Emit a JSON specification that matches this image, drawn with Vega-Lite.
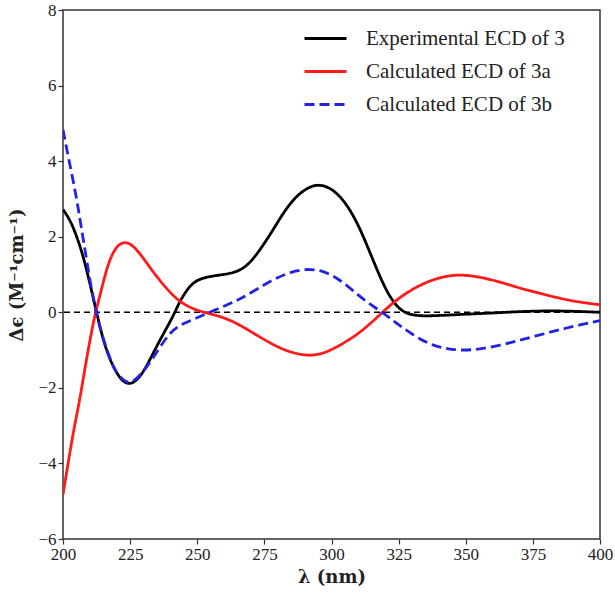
{
  "$schema": "https://vega.github.io/schema/vega-lite/v6.json",
  "autosize": {"type": "none"},
  "padding": {"left": 63, "top": 10, "right": 15, "bottom": 56},
  "width": 537,
  "height": 529,
  "background": "white",
  "config": {
    "view": {"stroke": "#333333", "strokeWidth": 1.5},
    "font": "Liberation Serif",
    "axis": {
      "grid": false,
      "domain": false,
      "labelFlush": false,
      "tickColor": "#333333",
      "tickSize": 5,
      "tickWidth": 1.2,
      "labelFont": "Liberation Serif",
      "labelFontSize": 17,
      "labelColor": "#222222",
      "titleFont": "DejaVu Serif",
      "titleFontSize": 18,
      "titleFontWeight": "bold",
      "titleColor": "#222222"
    },
    "legend": {
      "labelFont": "Liberation Serif",
      "labelFontSize": 21,
      "labelColor": "#222222",
      "labelLimit": 0
    }
  },
  "datasets": {
    "curves": [
      {"series": "Experimental ECD of 3", "wl": 200, "de": 2.72},
      {"series": "Experimental ECD of 3", "wl": 202.6, "de": 2.45},
      {"series": "Experimental ECD of 3", "wl": 205.1, "de": 2.02},
      {"series": "Experimental ECD of 3", "wl": 207.6, "de": 1.47},
      {"series": "Experimental ECD of 3", "wl": 210, "de": 0.77},
      {"series": "Experimental ECD of 3", "wl": 212.5, "de": 0.0},
      {"series": "Experimental ECD of 3", "wl": 214.5, "de": -0.6},
      {"series": "Experimental ECD of 3", "wl": 216.5, "de": -1.08},
      {"series": "Experimental ECD of 3", "wl": 220, "de": -1.65},
      {"series": "Experimental ECD of 3", "wl": 224, "de": -1.96},
      {"series": "Experimental ECD of 3", "wl": 228, "de": -1.78},
      {"series": "Experimental ECD of 3", "wl": 231, "de": -1.45},
      {"series": "Experimental ECD of 3", "wl": 234, "de": -1.02},
      {"series": "Experimental ECD of 3", "wl": 237, "de": -0.62},
      {"series": "Experimental ECD of 3", "wl": 239.5, "de": -0.3},
      {"series": "Experimental ECD of 3", "wl": 241.7, "de": 0.0},
      {"series": "Experimental ECD of 3", "wl": 243.6, "de": 0.31},
      {"series": "Experimental ECD of 3", "wl": 247.3, "de": 0.72},
      {"series": "Experimental ECD of 3", "wl": 251, "de": 0.9},
      {"series": "Experimental ECD of 3", "wl": 257.4, "de": 0.98},
      {"series": "Experimental ECD of 3", "wl": 263.3, "de": 1.03},
      {"series": "Experimental ECD of 3", "wl": 268.5, "de": 1.2},
      {"series": "Experimental ECD of 3", "wl": 273.4, "de": 1.65},
      {"series": "Experimental ECD of 3", "wl": 278, "de": 2.15},
      {"series": "Experimental ECD of 3", "wl": 284.5, "de": 2.92},
      {"series": "Experimental ECD of 3", "wl": 291, "de": 3.32},
      {"series": "Experimental ECD of 3", "wl": 296.5, "de": 3.41},
      {"series": "Experimental ECD of 3", "wl": 303, "de": 3.14},
      {"series": "Experimental ECD of 3", "wl": 309.5, "de": 2.43},
      {"series": "Experimental ECD of 3", "wl": 315.5, "de": 1.37},
      {"series": "Experimental ECD of 3", "wl": 320.7, "de": 0.5},
      {"series": "Experimental ECD of 3", "wl": 325.5, "de": 0.04},
      {"series": "Experimental ECD of 3", "wl": 330, "de": -0.08},
      {"series": "Experimental ECD of 3", "wl": 335, "de": -0.1},
      {"series": "Experimental ECD of 3", "wl": 342, "de": -0.08},
      {"series": "Experimental ECD of 3", "wl": 350, "de": -0.05},
      {"series": "Experimental ECD of 3", "wl": 360, "de": -0.02},
      {"series": "Experimental ECD of 3", "wl": 370, "de": 0.02},
      {"series": "Experimental ECD of 3", "wl": 380, "de": 0.04},
      {"series": "Experimental ECD of 3", "wl": 390, "de": 0.03},
      {"series": "Experimental ECD of 3", "wl": 400, "de": 0.0},

      {"series": "Calculated ECD of 3a", "wl": 200, "de": -4.82},
      {"series": "Calculated ECD of 3a", "wl": 202, "de": -3.95},
      {"series": "Calculated ECD of 3a", "wl": 204, "de": -3.1},
      {"series": "Calculated ECD of 3a", "wl": 206.3, "de": -2.3},
      {"series": "Calculated ECD of 3a", "wl": 208, "de": -1.55},
      {"series": "Calculated ECD of 3a", "wl": 210, "de": -0.75},
      {"series": "Calculated ECD of 3a", "wl": 212, "de": -0.02},
      {"series": "Calculated ECD of 3a", "wl": 213.8, "de": 0.45},
      {"series": "Calculated ECD of 3a", "wl": 215.5, "de": 0.95},
      {"series": "Calculated ECD of 3a", "wl": 217.5, "de": 1.42},
      {"series": "Calculated ECD of 3a", "wl": 220, "de": 1.76},
      {"series": "Calculated ECD of 3a", "wl": 223, "de": 1.88},
      {"series": "Calculated ECD of 3a", "wl": 226, "de": 1.78},
      {"series": "Calculated ECD of 3a", "wl": 229.8, "de": 1.45},
      {"series": "Calculated ECD of 3a", "wl": 233, "de": 1.12},
      {"series": "Calculated ECD of 3a", "wl": 236, "de": 0.85},
      {"series": "Calculated ECD of 3a", "wl": 239.5, "de": 0.55},
      {"series": "Calculated ECD of 3a", "wl": 243.6, "de": 0.27},
      {"series": "Calculated ECD of 3a", "wl": 248, "de": 0.1},
      {"series": "Calculated ECD of 3a", "wl": 252.5, "de": 0.0},
      {"series": "Calculated ECD of 3a", "wl": 256.5, "de": -0.07},
      {"series": "Calculated ECD of 3a", "wl": 261, "de": -0.17},
      {"series": "Calculated ECD of 3a", "wl": 266, "de": -0.34},
      {"series": "Calculated ECD of 3a", "wl": 272, "de": -0.6},
      {"series": "Calculated ECD of 3a", "wl": 278, "de": -0.85},
      {"series": "Calculated ECD of 3a", "wl": 284, "de": -1.05},
      {"series": "Calculated ECD of 3a", "wl": 291, "de": -1.16},
      {"series": "Calculated ECD of 3a", "wl": 297, "de": -1.1},
      {"series": "Calculated ECD of 3a", "wl": 303, "de": -0.88},
      {"series": "Calculated ECD of 3a", "wl": 309, "de": -0.62},
      {"series": "Calculated ECD of 3a", "wl": 314, "de": -0.33},
      {"series": "Calculated ECD of 3a", "wl": 319, "de": 0.0},
      {"series": "Calculated ECD of 3a", "wl": 323, "de": 0.26},
      {"series": "Calculated ECD of 3a", "wl": 328, "de": 0.52},
      {"series": "Calculated ECD of 3a", "wl": 333, "de": 0.72},
      {"series": "Calculated ECD of 3a", "wl": 338, "de": 0.87},
      {"series": "Calculated ECD of 3a", "wl": 343, "de": 0.96},
      {"series": "Calculated ECD of 3a", "wl": 348, "de": 1.0},
      {"series": "Calculated ECD of 3a", "wl": 355, "de": 0.94},
      {"series": "Calculated ECD of 3a", "wl": 363, "de": 0.8},
      {"series": "Calculated ECD of 3a", "wl": 370, "de": 0.64},
      {"series": "Calculated ECD of 3a", "wl": 377.6, "de": 0.5},
      {"series": "Calculated ECD of 3a", "wl": 385, "de": 0.37},
      {"series": "Calculated ECD of 3a", "wl": 392, "de": 0.27},
      {"series": "Calculated ECD of 3a", "wl": 400, "de": 0.2},

      {"series": "Calculated ECD of 3b", "wl": 200, "de": 4.83},
      {"series": "Calculated ECD of 3b", "wl": 202, "de": 4.1},
      {"series": "Calculated ECD of 3b", "wl": 204.5, "de": 3.24},
      {"series": "Calculated ECD of 3b", "wl": 206, "de": 2.6},
      {"series": "Calculated ECD of 3b", "wl": 207.6, "de": 1.91},
      {"series": "Calculated ECD of 3b", "wl": 210, "de": 0.85},
      {"series": "Calculated ECD of 3b", "wl": 212, "de": 0.1},
      {"series": "Calculated ECD of 3b", "wl": 214, "de": -0.48},
      {"series": "Calculated ECD of 3b", "wl": 216.4, "de": -1.0},
      {"series": "Calculated ECD of 3b", "wl": 218, "de": -1.32},
      {"series": "Calculated ECD of 3b", "wl": 220, "de": -1.63},
      {"series": "Calculated ECD of 3b", "wl": 224, "de": -1.91},
      {"series": "Calculated ECD of 3b", "wl": 227, "de": -1.79},
      {"series": "Calculated ECD of 3b", "wl": 229.8, "de": -1.58},
      {"series": "Calculated ECD of 3b", "wl": 233, "de": -1.27},
      {"series": "Calculated ECD of 3b", "wl": 236, "de": -0.93},
      {"series": "Calculated ECD of 3b", "wl": 240, "de": -0.52},
      {"series": "Calculated ECD of 3b", "wl": 244, "de": -0.32},
      {"series": "Calculated ECD of 3b", "wl": 248.5, "de": -0.19},
      {"series": "Calculated ECD of 3b", "wl": 253.6, "de": -0.03},
      {"series": "Calculated ECD of 3b", "wl": 261, "de": 0.19},
      {"series": "Calculated ECD of 3b", "wl": 266, "de": 0.35},
      {"series": "Calculated ECD of 3b", "wl": 272, "de": 0.6},
      {"series": "Calculated ECD of 3b", "wl": 278, "de": 0.86},
      {"series": "Calculated ECD of 3b", "wl": 285, "de": 1.08},
      {"series": "Calculated ECD of 3b", "wl": 292, "de": 1.16},
      {"series": "Calculated ECD of 3b", "wl": 298, "de": 1.07},
      {"series": "Calculated ECD of 3b", "wl": 303, "de": 0.86},
      {"series": "Calculated ECD of 3b", "wl": 308, "de": 0.58},
      {"series": "Calculated ECD of 3b", "wl": 313, "de": 0.27},
      {"series": "Calculated ECD of 3b", "wl": 319, "de": 0.0},
      {"series": "Calculated ECD of 3b", "wl": 324, "de": -0.28},
      {"series": "Calculated ECD of 3b", "wl": 328, "de": -0.48},
      {"series": "Calculated ECD of 3b", "wl": 333, "de": -0.72},
      {"series": "Calculated ECD of 3b", "wl": 338, "de": -0.88},
      {"series": "Calculated ECD of 3b", "wl": 343, "de": -0.97},
      {"series": "Calculated ECD of 3b", "wl": 348.6, "de": -1.01},
      {"series": "Calculated ECD of 3b", "wl": 355, "de": -0.98},
      {"series": "Calculated ECD of 3b", "wl": 363, "de": -0.87},
      {"series": "Calculated ECD of 3b", "wl": 370, "de": -0.74},
      {"series": "Calculated ECD of 3b", "wl": 377.6, "de": -0.6},
      {"series": "Calculated ECD of 3b", "wl": 385, "de": -0.46},
      {"series": "Calculated ECD of 3b", "wl": 392, "de": -0.34},
      {"series": "Calculated ECD of 3b", "wl": 400, "de": -0.22}
    ],
    "zero": [{"de": 0}]
  },
  "layer": [
    {
      "data": {"name": "zero"},
      "mark": {"type": "rule", "color": "black", "strokeWidth": 1.6, "strokeDash": [6, 4]},
      "encoding": {"y": {"field": "de", "type": "quantitative", "scale": {"domain": [-6, 8]}}}
    },
    {
      "data": {"name": "curves"},
      "mark": {"type": "line", "interpolate": "basis", "strokeWidth": 2.8, "clip": true},
      "encoding": {
        "x": {
          "field": "wl", "type": "quantitative",
          "scale": {"domain": [200, 400], "nice": false},
          "axis": {"values": [200, 225, 250, 275, 300, 325, 350, 375, 400], "title": "λ (nm)", "titlePadding": 6}
        },
        "y": {
          "field": "de", "type": "quantitative",
          "scale": {"domain": [-6, 8], "nice": false},
          "axis": {"values": [-6, -4, -2, 0, 2, 4, 6, 8], "title": "Δϵ (M⁻¹cm⁻¹)", "titlePadding": 11}
        },
        "color": {
          "field": "series", "type": "nominal",
          "scale": {
            "domain": ["Experimental ECD of 3", "Calculated ECD of 3a", "Calculated ECD of 3b"],
            "range": ["#000000", "#ff1a1a", "#2222e6"]
          },
          "legend": {
            "title": null,
            "orient": "none",
            "legendX": 240,
            "legendY": 6,
            "symbolType": "stroke",
            "symbolSize": 1764,
            "symbolStrokeWidth": 3,
            "rowPadding": -17,
            "labelOffset": 18,
            "padding": 0
          }
        },
        "strokeDash": {
          "field": "series", "type": "nominal",
          "scale": {
            "domain": ["Experimental ECD of 3", "Calculated ECD of 3a", "Calculated ECD of 3b"],
            "range": [[1, 0], [1, 0], [10, 5]]
          },
          "legend": null
        }
      }
    }
  ]
}
